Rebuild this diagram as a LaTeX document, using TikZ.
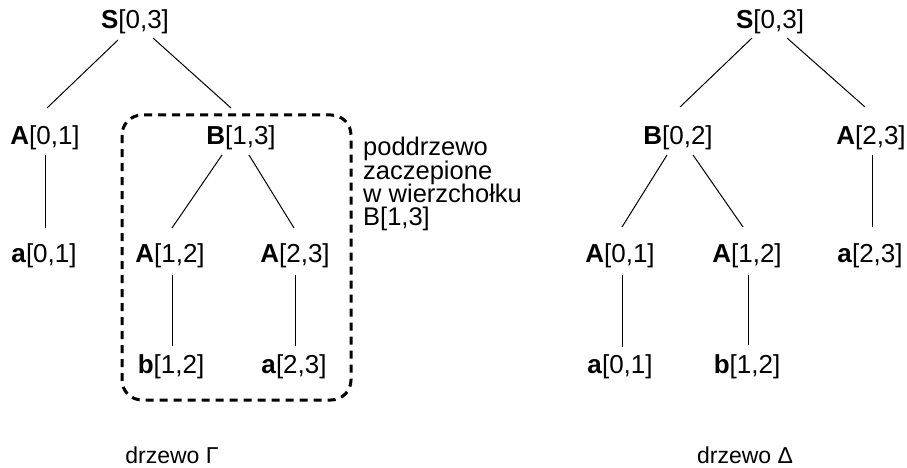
\documentclass[tikz,border=0pt]{standalone}
\usepackage{fontspec}
\setmainfont{Liberation Sans}
\begin{document}
\begin{tikzpicture}[x=1pt,y=-1pt,
  lbl/.style={anchor=base,inner sep=0pt,font=\fontsize{26}{30}\selectfont},
  caption/.style={anchor=base,inner sep=0pt,font=\fontsize{23}{27}\selectfont},
  note/.style={anchor=base west,inner sep=0pt,font=\fontsize{25.5}{29}\selectfont},
  edge/.style={line width=1pt},
  subtree/.style={line width=3pt,dash pattern=on 8pt off 6pt,rounded corners=20pt}]
\useasboundingbox (0,0) rectangle (907,468);

% derivation tree Gamma
\node[lbl] (lS)   at (135,29)  {\textbf{S}[0,3]};
\node[lbl] (lA01) at (45,144)  {\textbf{A}[0,1]};
\node[lbl] (lB13) at (241,144) {\textbf{B}[1,3]};
\node[lbl] (la01) at (44,262)  {\textbf{a}[0,1]};
\node[lbl] (lA12) at (170,262) {\textbf{A}[1,2]};
\node[lbl] (lA23) at (295,262) {\textbf{A}[2,3]};
\node[lbl] (lb12) at (171,373) {\textbf{b}[1,2]};
\node[lbl] (la23) at (294,373) {\textbf{a}[2,3]};

\draw[edge] ([shift={(-17,11)}]lS.base)   -- ([shift={(2,-36)}]lA01.base);
\draw[edge] ([shift={(18,9)}]lS.base)     -- ([shift={(-10,-36)}]lB13.base);
\draw[edge] ([shift={(0,11)}]lA01.base)   -- ([shift={(1,-34)}]la01.base);
\draw[edge] ([shift={(-19,11)}]lB13.base) -- ([shift={(2,-34)}]lA12.base);
\draw[edge] ([shift={(8,11)}]lB13.base)   -- ([shift={(-1,-34)}]lA23.base);
\draw[edge] ([shift={(2,13)}]lA12.base)   -- ([shift={(1,-27)}]lb12.base);
\draw[edge] ([shift={(0,13)}]lA23.base)   -- ([shift={(1,-27)}]la23.base);

% the subtree rooted at B[1,3]
\draw[subtree] (122,115) rectangle (351,400);
\node[note] (n1) at (363,155) {poddrzewo};
\node[note] (n2) at (363,179) {zaczepione};
\node[note] (n3) at (363,202) {w wierzchołku};
\node[note] (n4) at (363,225) {B[1,3]};

\node[caption] (capG) at (172,463) {drzewo Γ};

% derivation tree Delta
\node[lbl] (rS)   at (770,29)  {\textbf{S}[0,3]};
\node[lbl] (rB02) at (678,144) {\textbf{B}[0,2]};
\node[lbl] (rA23) at (871,144) {\textbf{A}[2,3]};
\node[lbl] (rA01) at (620,262) {\textbf{A}[0,1]};
\node[lbl] (rA12) at (747,262) {\textbf{A}[1,2]};
\node[lbl] (ra23) at (870,262) {\textbf{a}[2,3]};
\node[lbl] (ra01) at (620,373) {\textbf{a}[0,1]};
\node[lbl] (rb12) at (747,373) {\textbf{b}[1,2]};

\draw[edge] ([shift={(-18,9)}]rS.base)    -- ([shift={(2,-37)}]rB02.base);
\draw[edge] ([shift={(17,9)}]rS.base)     -- ([shift={(-6,-37)}]rA23.base);
\draw[edge] ([shift={(-11,11)}]rB02.base) -- ([shift={(2,-35)}]rA01.base);
\draw[edge] ([shift={(15,11)}]rB02.base)  -- ([shift={(-4,-35)}]rA12.base);
\draw[edge] ([shift={(1,11)}]rA23.base)   -- ([shift={(2,-35)}]ra23.base);
\draw[edge] ([shift={(2,13)}]rA01.base)   -- ([shift={(2,-26)}]ra01.base);
\draw[edge] ([shift={(1,13)}]rA12.base)   -- ([shift={(1,-28)}]rb12.base);

\node[caption] (capD) at (745,463) {drzewo Δ};
\end{tikzpicture}
\end{document}
